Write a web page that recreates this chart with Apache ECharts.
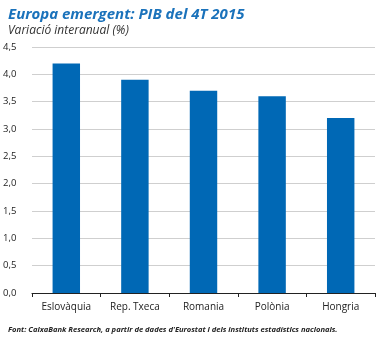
<!DOCTYPE html>
<html><head><meta charset="utf-8">
<script src="https://cdn.jsdelivr.net/npm/echarts@6/dist/echarts.min.js"></script>
<style>html,body{margin:0;padding:0;background:#fff}#c{width:384px;height:338px}</style>
</head><body><div id="c"></div>
<script>
const categories = ["Eslovàquia", "Rep. Txeca", "Romania", "Polònia", "Hongria"];
const values = [4.2, 3.9, 3.7, 3.6, 3.2];
const titleText = "Europa emergent: PIB del 4T 2015";
const subtitleText = "Variació interanual (%)";
const sourceText = "CaixaBank Research, a partir de dades d'Eurostat i dels instituts estadístics nacionals.";

const chart = echarts.init(document.getElementById('c'), null, {renderer: 'canvas'});
chart.setOption({
  animation: false,
  textStyle: {fontFamily: 'Open Sans'},
  title: [
    {text: titleText, left: 3, top: 2,
     textStyle: {fontFamily: 'Open Sans', fontStyle: 'italic', fontWeight: 'bold', fontSize: 15, color: '#1a72bb'}},
    {text: subtitleText, left: 3, top: 20,
     textStyle: {fontFamily: 'Open Sans', fontStyle: 'italic', fontWeight: 'normal', fontSize: 12, color: '#333'}},
    {text: '{b|Font:} ' + sourceText, left: 3, top: 321,
     textStyle: {fontFamily: 'Open Sans', fontStyle: 'italic', fontSize: 7.6, color: '#222',
       rich: {b: {fontWeight: 'bold', fontStyle: 'italic', fontSize: 7.6, fontFamily: 'Open Sans', color: '#222'}}}}
  ],
  grid: {left: 26, right: 9, top: 47, bottom: 45, containLabel: false},
  xAxis: {
    type: 'category', data: categories,
    axisLine: {lineStyle: {color: '#222', width: 1}},
    axisTick: {show: true, alignWithLabel: false, length: 4, lineStyle: {color: '#222'}},
    axisLabel: {color: '#222', fontSize: 10, margin: 9}
  },
  yAxis: {
    type: 'value', min: 0, max: 4.5, interval: 0.5,
    axisLine: {show: false}, axisTick: {show: false},
    splitLine: {lineStyle: {color: '#cfcfcf', width: 1}},
    axisLabel: {color: '#222', fontSize: 9.5, margin: 8, align: 'left', padding: [0,0,0,-21],
      formatter: v => v.toFixed(1).replace('.', ',')}
  },
  series: [{
    type: 'bar', data: values, barWidth: '40%',
    itemStyle: {color: '#0068b5'}
  }]
});
</script></body></html>
